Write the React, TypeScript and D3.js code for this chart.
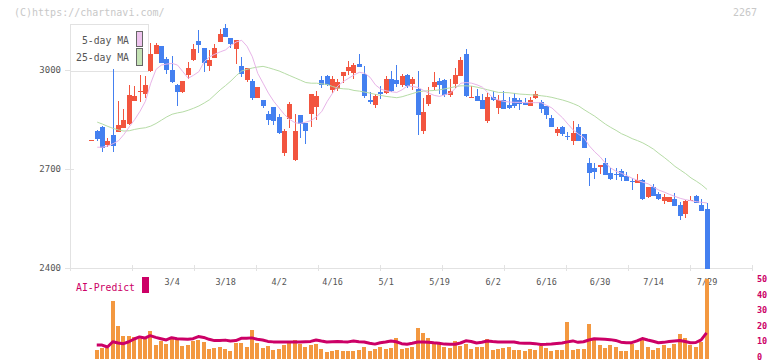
import React from "react";
import * as d3 from "d3";

const openP = [2787,2815,2827,2773,2803,2813,2825,2837,2906,2935,2927,2997,3048,3073,3033,3000,2955,2932,2985,3030,3088,3068,3012,3037,3084,3126,3098,3063,3012,2970,2968,2916,2909,2867,2888,2858,2748,2852,2727,2864,2839,2867,2889,2970,2982,2940,2943,2982,2997,2992,3018,2988,2909,2894,2933,2930,2973,2970,2955,2985,2958,2942,2815,2897,2948,2967,2970,2924,2958,2982,3048,2917,2921,2909,2845,2918,2885,2909,2895,2915,2909,2900,2891,2915,2903,2891,2855,2809,2827,2800,2785,2827,2806,2718,2703,2706,2718,2688,2686,2694,2679,2664,2658,2667,2615,2645,2624,2603,2600,2609,2591,2564,2605,2618,2591,2579];
const highP = [2789,2819,2830,2793,3003,2906,2882,2955,2952,2985,2982,3081,3081,3073,3040,3042,2958,2968,3023,3079,3121,3068,3061,3079,3124,3139,3098,3091,3038,3005,2973,2949,2909,2876,2888,2867,2821,2904,2867,2864,2839,2927,2936,2983,2985,2982,2973,2994,3027,3022,3048,3012,2933,2927,2952,2982,2997,3015,2988,2988,2978,2997,2915,2948,2994,2976,2973,2973,3006,3039,3064,2952,2942,2927,2931,2936,2924,2936,2918,2931,2915,2915,2918,2936,2909,2891,2864,2827,2830,2812,2845,2836,2806,2733,2718,2712,2733,2703,2703,2700,2691,2673,2685,2670,2645,2655,2630,2624,2615,2627,2600,2606,2618,2621,2609,2597];
const lowP = [2786,2785,2752,2768,2752,2813,2825,2833,2906,2903,2915,2993,3048,3020,2987,2960,2892,2929,2973,3028,3051,2993,2997,3035,3084,3101,3068,3017,2980,2965,2909,2914,2886,2833,2833,2806,2740,2824,2724,2795,2777,2827,2848,2946,2952,2929,2937,2962,2985,2972,3010,2916,2897,2886,2913,2927,2933,2948,2948,2946,2939,2803,2807,2891,2939,2927,2917,2917,2945,2982,2918,2916,2906,2882,2839,2906,2867,2882,2882,2885,2879,2894,2891,2912,2870,2852,2828,2800,2800,2788,2773,2785,2764,2648,2670,2685,2682,2667,2667,2664,2664,2636,2658,2606,2612,2618,2606,2594,2600,2588,2545,2552,2605,2597,2573,2267];
const closeP = [2788,2791,2763,2785,2771,2833,2848,2924,2921,2937,2955,3048,3076,3022,2999,2965,2934,2968,3007,3064,3076,3022,3030,3066,3109,3101,3078,3091,2988,3005,2916,2949,2891,2848,2846,2809,2815,2897,2815,2836,2815,2927,2921,2955,2955,2973,2964,2994,3009,3015,3010,2921,2903,2921,2927,2973,2936,2958,2982,2952,2973,2864,2873,2924,2964,2955,2924,2936,2985,3030,2921,2919,2906,2882,2918,2909,2909,2882,2886,2891,2897,2894,2909,2927,2882,2864,2828,2821,2806,2797,2809,2785,2764,2688,2691,2712,2682,2670,2683,2676,2664,2661,2667,2609,2645,2618,2609,2615,2615,2588,2558,2603,2606,2597,2573,2267];

const ma5 = [null,2766,2766,2770,2777,2786,2805,2828,2850,2875,2905,2960,3002,3015,3018,3020,3015,2995,2975,2984,2995,3025,3040,3048,3055,3061,3075,3085,3090,3072,3040,2990,2960,2930,2905,2885,2865,2850,2840,2838,2842,2847,2858,2875,2905,2930,2952,2965,2975,2985,2993,2990,2978,2955,2942,2937,2934,2932,2940,2952,2950,2947,2938,2930,2923,2920,2925,2930,2945,2960,2962,2960,2955,2948,2932,2915,2909,2905,2903,2902,2902,2901,2901,2901,2901,2893,2885,2870,2855,2836,2818,2805,2795,2770,2752,2737,2718,2703,2693,2687,2680,2672,2666,2660,2655,2645,2636,2630,2623,2617,2611,2607,2604,2601,2599,2597];
const ma25 = [null,2842,2836,2829,2823,2818,2815,2816,2820,2823,2825,2830,2838,2848,2858,2866,2870,2873,2878,2884,2891,2900,2910,2925,2940,2953,2967,2983,2997,3002,3006,3009,3011,3007,3002,2997,2990,2983,2976,2969,2962,2960,2960,2958,2956,2950,2945,2943,2942,2938,2936,2933,2930,2926,2923,2920,2918,2916,2919,2924,2929,2934,2936,2937,2938,2940,2943,2946,2950,2952,2952,2951,2948,2944,2940,2936,2932,2932,2931,2929,2927,2926,2925,2924,2922,2920,2917,2913,2909,2904,2898,2891,2880,2870,2860,2848,2836,2826,2817,2807,2800,2792,2786,2779,2770,2760,2747,2735,2722,2708,2697,2686,2673,2663,2652,2638];

const volume = [null,5.6,7,6.9,36.4,20.6,14.4,14.4,13.5,12.3,13.1,17.5,8.8,11.3,9.4,12.5,13.1,8.1,8.8,11.3,11.9,10.6,6.3,6.9,7.5,6.3,5,10,10,7.5,18.1,10,6.9,8.1,5.6,6.3,8.8,10,11.9,9.4,7.5,8.8,9.4,6.3,4.4,5,5.6,5,5,5,5.6,7.5,5,6.3,7.5,6.3,6.9,13.1,6.3,6.9,7.5,19.4,16.3,13.1,10.6,9.4,7.5,6.9,11.3,8.1,9.4,6.3,7.5,7.5,12.5,5.6,6.3,6.9,7.5,5.6,5.6,5,6.3,5.6,8.1,6.9,5,5.6,5.6,23.1,5.6,6.3,6.3,21.9,11.9,8.8,6.9,8.8,7.5,5,5,9.4,5.6,11.9,7.5,5.6,6.9,8.8,6.9,9.4,15.6,13.1,8.8,7.5,10.6,50];
const aiPredict = [null,8.7,8.7,7.5,10.8,10,9.6,10.8,12.5,13.8,13.1,14.6,13.5,12.7,11.9,13.3,12.7,12.5,12.3,12.7,14,13.5,12.3,11.5,11.5,11.8,11.2,11.5,12.9,12.9,13.2,12.3,11.9,11,10.7,10.6,10.6,10.6,10.6,10.6,10.8,11,11.9,11.2,10.6,10.8,11,10.8,10.7,11.3,10.8,10.6,9.8,9.3,10.2,10.6,11.3,10.8,9.6,9.2,9.8,10.6,10.6,10.5,10.1,9.8,9.3,9.2,9.2,10,11.4,10.9,10,10.5,11.3,10.9,10.6,10.6,10.6,10.6,10,9.8,9.8,9.6,9.1,9.2,9.4,9.7,10,10.7,11.3,10.4,10.8,11.9,12.7,12.5,12.3,12.1,11.6,10.5,10.2,10.2,11.3,12.8,11.9,11.1,10.2,10.4,10.9,11.2,11.5,10.9,10.2,10.3,12,16.3];

const dateLabels = ["3/4","3/18","4/2","4/16","5/1","5/19","6/2","6/16","6/30","7/14","7/29"];
const dateIndex = [15,25,35,45,55,65,75,85,95,105,115];
const priceTicks = [2400, 2700, 3000];
const volTicks = [0, 10, 20, 30, 40, 50];

const UP = "#f2553f";
const DOWN = "#4480f0";
const MONO = "'DejaVu Sans Mono', monospace";

export default function App() {
  const W = 772, H = 361;
  const x = d3.scaleLinear().domain([-4, 123.5]).range([70, 752]);
  const y = d3.scaleLinear().domain([2400, 3000]).range([268, 70]);
  const v = d3.scaleLinear().domain([0, 50]).range([359, 279]);
  const vLabel = d3.scaleLinear().domain([0, 50]).range([360, 282]);
  const axisTicksX = d3.range(12).map((j) => 70 + (j * 682) / 11);

  const maLine = d3
    .line<number | null>()
    .defined((d) => d != null)
    .x((_, i) => x(i) + 0.5)
    .y((d) => y(d as number));
  const aiLine = d3
    .line<number | null>()
    .defined((d) => d != null)
    .x((_, i) => x(i))
    .y((d) => v(d as number));

  return (
    <svg width={W} height={H} style={{ position: "absolute", left: 0, top: 0, background: "#fff" }}>
      <defs>
        <clipPath id="plotClip">
          <rect x={70} y={0} width={690} height={269} />
        </clipPath>
      </defs>
      <text x={14} y={16} fontFamily={MONO} fontSize={10} fill="#c8c8c8">(C)https://chartnavi.com/</text>
      <text x={757} y={16} textAnchor="end" fontFamily={MONO} fontSize={10} fill="#c8c8c8">2267</text>

      {/* axes */}
      <g shapeRendering="crispEdges" stroke="#e2e2e2">
        <line x1={70.5} x2={70.5} y1={24} y2={268} />
        <line x1={65} x2={752} y1={268.5} y2={268.5} />
        {axisTicksX.map((t, i) => (
          <line key={i} x1={Math.round(t) + 0.5} x2={Math.round(t) + 0.5} y1={265} y2={271} />
        ))}
        {priceTicks.map((p) => (
          <line key={p} x1={65} x2={74} y1={Math.round(y(p)) + 0.5} y2={Math.round(y(p)) + 0.5} />
        ))}
      </g>
      {priceTicks.map((p) => (
        <text key={p} x={61} y={y(p) + 3} textAnchor="end" fontFamily={MONO} fontSize={9} fill="#555">{p}</text>
      ))}

      {/* legend */}
      <g>
        <rect x={70.5} y={24.5} width={78} height={47} fill="#fff" stroke="#e2e2e2" />
        <text x={129} y={44} textAnchor="end" fontFamily={MONO} fontSize={11} fill="#555" textLength={47} lengthAdjust="spacingAndGlyphs">5-day MA</text>
        <text x={129} y={61} textAnchor="end" fontFamily={MONO} fontSize={11} fill="#555" textLength={53} lengthAdjust="spacingAndGlyphs">25-day MA</text>
        <rect x={136.5} y={31.5} width={6} height={15} fill="#eec4ee" stroke="#666" />
        <rect x={136.5} y={48.5} width={6} height={17} fill="#c4e2b4" stroke="#666" />
      </g>

      {/* candles */}
      <g clipPath="url(#plotClip)" shapeRendering="crispEdges">
        {closeP.map((c, i) => {
          const o = openP[i];
          const col = c >= o ? UP : DOWN;
          const cx = Math.round(x(i));
          const top = Math.round(y(Math.max(o, c)));
          const bot = Math.round(y(Math.min(o, c)));
          return (
            <g key={i}>
              <rect x={cx} y={Math.round(y(highP[i]))} width={1} height={Math.max(1, Math.round(y(lowP[i])) - Math.round(y(highP[i])))} fill={col} />
              <rect x={cx - 2} y={top} width={5} height={Math.max(1, bot - top)} fill={col} />
            </g>
          );
        })}
      </g>
      <path d={maLine(ma25) || ""} fill="none" stroke="#b6dca6" strokeWidth={1} />
      <path d={maLine(ma5) || ""} fill="none" stroke="#e8b4e8" strokeWidth={1} />

      {/* date labels */}
      {dateLabels.map((l, k) => (
        <text key={l} x={x(dateIndex[k]) + 0.5} y={285} textAnchor="middle" fontFamily={MONO} fontSize={8.5} fill="#555">{l}</text>
      ))}

      {/* AI predict panel */}
      <text x={76} y={291} fontFamily={MONO} fontSize={10} fill="#cc0066" textLength={59} lengthAdjust="spacingAndGlyphs">AI-Predict</text>
      <rect x={142} y={277} width={7} height={16} fill="#cc0066" />
      <g shapeRendering="crispEdges">
        {volume.map((val, i) =>
          val == null ? null : (
            <rect key={i} x={Math.round(x(i)) - 2} y={v(val)} width={4} height={359 - v(val)} fill="#f39840" />
          )
        )}
      </g>
      <path d={aiLine(aiPredict) || ""} fill="none" stroke="#cc0066" strokeWidth={3} strokeLinejoin="round" />
      {volTicks.map((t) => (
        <text key={t} x={757} y={vLabel(t)} fontFamily={MONO} fontSize={8.5} fontWeight="bold" fill="#cc0066">{t}</text>
      ))}
    </svg>
  );
}
